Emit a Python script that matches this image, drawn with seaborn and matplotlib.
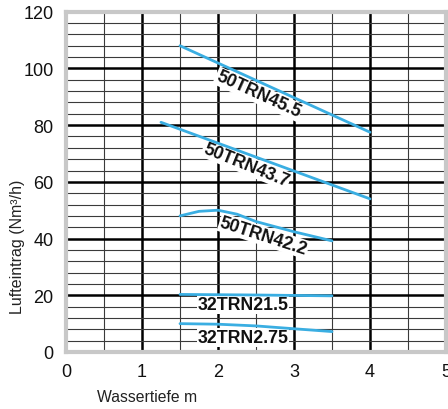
import matplotlib
matplotlib.use("Agg")
import matplotlib.pyplot as plt
import seaborn as sns
import pandas as pd

# ---- data ----
x_455 = [1.5, 4.0]
y_455 = [108, 77.5]
x_437 = [1.25, 4.0]
y_437 = [81, 54]
x_422 = [1.5, 1.75, 2.0, 2.25, 2.5, 3.0, 3.5]
y_422 = [48, 49.6, 50, 48.6, 46.0, 42.4, 39.2]
x_215 = [1.5, 2.5, 3.5]
y_215 = [20.3, 20.1, 19.8]
x_275 = [1.5, 2.0, 2.5, 3.0, 3.5]
y_275 = [10.0, 9.8, 9.2, 8.2, 7.2]

series_names = ["50TRN45.5", "50TRN43.7", "50TRN42.2", "32TRN21.5", "32TRN2.75"]
series_x = [x_455, x_437, x_422, x_215, x_275]
series_y = [y_455, y_437, y_422, y_215, y_275]

# label anchor (data coords) and angle
label_x = [2.53, 2.37, 2.6, 2.33, 2.33]
label_y = [90.9, 66.0, 40.9, 16.8, 5.2]
label_rot = [-24.5, -22, -18, 0, 0]

x_ticks = [0, 1, 2, 3, 4, 5]
y_ticks = [0, 20, 40, 60, 80, 100, 120]

rows = []
for n, xs, ys in zip(series_names, series_x, series_y):
    for a, b in zip(xs, ys):
        rows.append({"series": n, "x": a, "y": b})
df = pd.DataFrame(rows)

sns.set_theme(style="white")
plt.rcParams["font.family"] = ["Liberation Sans", "DejaVu Sans"]

fig = plt.figure(figsize=(4.48, 4.10), dpi=100)
ax = fig.add_axes([66/448, 1-353/410, 380/448, 340.3/410])

line_color = "#3aaee2"
for n in series_names:
    sub = df[df["series"] == n]
    sns.lineplot(data=sub, x="x", y="y", ax=ax, color=line_color,
                 linewidth=2.0, sort=False, estimator=None, zorder=5)

for n, lx, ly, r in zip(series_names, label_x, label_y, label_rot):
    ax.text(lx, ly, n, rotation=r, rotation_mode="anchor", ha="center", va="center",
            fontsize=12.8, fontweight="bold", color="#111111", zorder=4,
            bbox=dict(facecolor="white", edgecolor="none", pad=0.6))

ax.set_xlim(0, 5)
ax.set_ylim(0, 120)
ax.set_xticks(x_ticks)
ax.set_yticks(y_ticks)
ax.set_xticks([i * 0.5 for i in range(11)], minor=True)
ax.set_yticks(list(range(0, 121, 4)), minor=True)
ax.grid(which="minor", color="#3a3a3a", linewidth=0.8, zorder=1)
ax.grid(which="major", color="#000000", linewidth=1.8, zorder=1)
ax.set_axisbelow(True)

for s in ax.spines.values():
    s.set_visible(True)
    s.set_color("#c8c8c8")
    s.set_linewidth(3.0)

ax.tick_params(which="both", length=0)
ax.tick_params(axis="x", pad=8, labelsize=13, colors="#111111")
ax.tick_params(axis="y", pad=9, labelsize=13, colors="#111111")

ax.set_xlabel("Wassertiefe m", fontsize=11.3, color="#222222")
ax.set_ylabel("Lufteintrag (Nm³/h)", fontsize=11.5, color="#222222")
ax.xaxis.set_label_coords(0.213, -0.108)
ax.yaxis.set_label_coords(-0.108, 0.311)
ax.get_legend() and ax.get_legend().remove()

fig.savefig("out.png", dpi=100)
